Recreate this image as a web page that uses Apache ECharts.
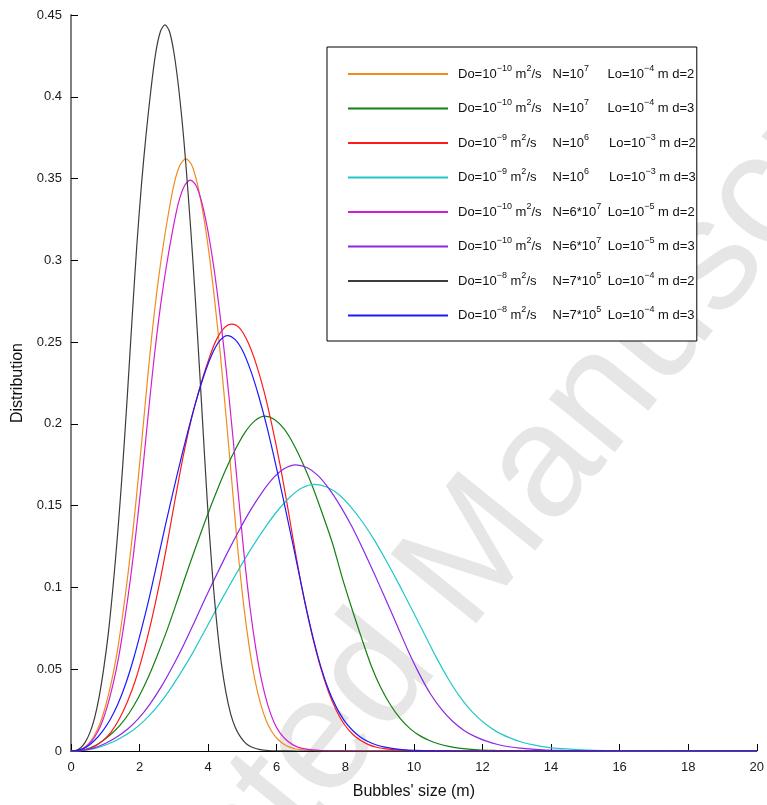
<!DOCTYPE html>
<html>
<head>
<meta charset="utf-8">
<script src="https://cdn.jsdelivr.net/npm/echarts@6/dist/echarts.min.js"></script>
<style>
html,body{margin:0;padding:0;background:#fff;}
#chart{width:767px;height:805px;}
</style>
</head>
<body>
<div id="chart"></div>
<script>
// Values (x in m, y = distribution)
const orangeX = [0,0.168,0.335,0.503,0.67,0.838,1.005,1.173,1.34,1.508,1.675,1.843,2.01,2.178,2.345,2.513,2.68,2.848,3.015,3.183,3.35,3.518,3.685,3.853,4.02,4.188,4.355,4.523,4.69,4.858,5.025,5.193,5.36,5.528,5.695,5.863,6.03,6.198,6.365,6.533,6.7,7.035,7.37,8.04,20];
const orangeY = [0,0.0002,0.0014,0.0043,0.009,0.0163,0.0272,0.0416,0.0597,0.0833,0.1104,0.1419,0.1774,0.2154,0.2516,0.2824,0.3077,0.3294,0.3475,0.3584,0.362,0.3584,0.3468,0.3287,0.3052,0.2758,0.2425,0.2045,0.1647,0.1249,0.0912,0.0644,0.0438,0.029,0.0185,0.0116,0.0072,0.0043,0.0025,0.0014,0.0008,0.0003,0.0001,0,0];

const greenX = [0,0.283,0.565,0.848,1.13,1.413,1.695,1.978,2.26,2.543,2.825,3.108,3.39,3.673,3.955,4.238,4.52,4.803,5.085,5.368,5.65,5.933,6.215,6.498,6.78,7.063,7.345,7.628,7.91,8.193,8.475,8.758,9.04,9.323,9.605,9.888,10.17,10.453,10.735,11.018,11.3,11.865,12.43,12.995,14.125,20];
const greenY = [0,0.0004,0.002,0.0051,0.0096,0.0154,0.0231,0.0332,0.0454,0.0598,0.0753,0.0925,0.1099,0.1267,0.1429,0.1582,0.1724,0.1848,0.1951,0.202,0.2047,0.2027,0.1969,0.1873,0.175,0.1607,0.1443,0.1269,0.106,0.087,0.069,0.052,0.0385,0.028,0.0198,0.0137,0.0094,0.0064,0.0043,0.0028,0.0018,0.0007,0.0003,0.0001,0,0];

const redX = [0,0.235,0.469,0.704,0.938,1.173,1.407,1.642,1.876,2.111,2.345,2.58,2.814,3.049,3.283,3.518,3.752,3.987,4.221,4.456,4.69,4.925,5.159,5.394,5.628,5.863,6.097,6.332,6.566,6.801,7.035,7.27,7.504,7.739,7.973,8.208,8.442,8.677,8.911,9.146,9.38,9.849,10.318,11.256,20];
const redY = [0,0.0001,0.001,0.0031,0.0065,0.0117,0.0196,0.03,0.0431,0.06,0.0796,0.1023,0.1279,0.1553,0.1814,0.2036,0.2219,0.2375,0.2506,0.2584,0.261,0.2584,0.25,0.237,0.22,0.1989,0.1749,0.1475,0.1188,0.0927,0.0705,0.0517,0.0365,0.0248,0.0162,0.0104,0.0065,0.0039,0.0023,0.0014,0.0009,0.0003,0.0001,0,0];

const cyanX = [0,0.355,0.71,1.065,1.42,1.775,2.13,2.485,2.84,3.195,3.55,3.905,4.26,4.615,4.97,5.325,5.68,6.035,6.39,6.745,7.1,7.455,7.81,8.165,8.52,8.875,9.23,9.585,9.94,10.295,10.65,11.005,11.36,11.715,12.07,12.425,12.78,13.135,13.49,13.845,14.2,14.91,15.62,16.33,17.75,20];
const cyanY = [0,0.0003,0.0016,0.0041,0.0077,0.0122,0.0184,0.0264,0.0362,0.0476,0.06,0.0737,0.0875,0.1009,0.1138,0.126,0.1372,0.1472,0.1553,0.1609,0.163,0.1614,0.1568,0.1491,0.1394,0.128,0.1149,0.1011,0.0867,0.072,0.0574,0.044,0.0326,0.0236,0.0168,0.0117,0.0082,0.0055,0.0037,0.0024,0.0016,0.0007,0.0002,0.0001,0,0];

const magentaX = [0,0.174,0.348,0.522,0.696,0.87,1.044,1.218,1.392,1.566,1.74,1.914,2.088,2.262,2.436,2.61,2.784,2.958,3.132,3.306,3.48,3.654,3.828,4.002,4.176,4.35,4.524,4.698,4.872,5.046,5.22,5.394,5.568,5.742,5.916,6.09,6.264,6.438,6.612,6.786,6.96,7.308,7.656,8.352,20];
const magentaY = [0,0.0002,0.0014,0.0042,0.0087,0.0157,0.0262,0.0401,0.0576,0.0803,0.1064,0.1368,0.171,0.2077,0.2426,0.2722,0.2967,0.3176,0.335,0.3455,0.349,0.3455,0.3343,0.3169,0.2942,0.2659,0.2338,0.1972,0.1588,0.1204,0.0879,0.0621,0.0422,0.0279,0.0178,0.0112,0.007,0.0042,0.0024,0.0014,0.0008,0.0002,0.0001,0,0];

const purpleX = [0,0.328,0.655,0.983,1.31,1.638,1.965,2.293,2.62,2.948,3.275,3.603,3.93,4.258,4.585,4.913,5.24,5.568,5.895,6.223,6.55,6.878,7.205,7.533,7.86,8.188,8.515,8.843,9.17,9.498,9.825,10.153,10.48,10.808,11.135,11.463,11.79,12.118,12.445,12.773,13.1,13.755,14.41,15.065,16.375,20];
const purpleY = [0,0.0004,0.0018,0.0044,0.0082,0.0131,0.0198,0.0284,0.0389,0.0511,0.0644,0.0791,0.094,0.1083,0.1222,0.1353,0.1474,0.158,0.1668,0.1727,0.175,0.1733,0.1684,0.1601,0.1496,0.1374,0.1234,0.1085,0.0931,0.0774,0.0616,0.0473,0.035,0.0254,0.018,0.0126,0.0088,0.006,0.004,0.0026,0.0017,0.0007,0.0003,0.0001,0,0];

const blackX = [0,0.137,0.274,0.411,0.548,0.685,0.822,0.959,1.096,1.233,1.37,1.507,1.644,1.781,1.918,2.055,2.192,2.329,2.466,2.603,2.74,2.877,3.014,3.151,3.288,3.425,3.562,3.699,3.836,3.973,4.11,4.247,4.384,4.521,4.658,4.795,4.932,5.069,5.206,5.343,5.48,5.754,6.028,6.576,20];
const blackY = [0,0.0002,0.0018,0.0053,0.0111,0.02,0.0333,0.0511,0.0733,0.1021,0.1354,0.174,0.2176,0.2642,0.3086,0.3463,0.3774,0.404,0.4262,0.4396,0.444,0.4396,0.4254,0.4032,0.3743,0.3383,0.2975,0.2509,0.202,0.1532,0.1119,0.079,0.0537,0.0355,0.0226,0.0142,0.0089,0.0053,0.0031,0.0018,0.001,0.0003,0.0001,0,0];

const blueX = [0,0.228,0.456,0.684,0.912,1.14,1.368,1.596,1.824,2.052,2.28,2.508,2.736,2.964,3.192,3.42,3.648,3.876,4.104,4.332,4.56,4.788,5.016,5.244,5.472,5.7,5.928,6.156,6.384,6.612,6.84,7.068,7.296,7.524,7.752,7.98,8.208,8.436,8.664,8.892,9.12,9.576,10.032,10.488,11.4,20];
const blueY = [0,0.0005,0.0025,0.0064,0.0119,0.0191,0.0287,0.0411,0.0564,0.0742,0.0935,0.1148,0.1364,0.1572,0.1773,0.1963,0.2139,0.2294,0.2421,0.2507,0.254,0.2515,0.2443,0.2324,0.2172,0.1994,0.1791,0.1575,0.1351,0.1123,0.0894,0.0686,0.0508,0.0368,0.0262,0.0183,0.0127,0.0086,0.0058,0.0038,0.0025,0.001,0.0004,0.0001,0,0];

const xTicks = [0,2,4,6,8,10,12,14,16,18,20];
const yTicks = [0,0.05,0.1,0.15,0.2,0.25,0.3,0.35,0.4,0.45];

const seriesNames = [
  'Do=10^-10 m^2/s N=10^7 Lo=10^-4 m d=2',
  'Do=10^-10 m^2/s N=10^7 Lo=10^-4 m d=3',
  'Do=10^-9 m^2/s N=10^6 Lo=10^-3 m d=2',
  'Do=10^-9 m^2/s N=10^6 Lo=10^-3 m d=3',
  'Do=10^-10 m^2/s N=6*10^7 Lo=10^-5 m d=2',
  'Do=10^-10 m^2/s N=6*10^7 Lo=10^-5 m d=3',
  'Do=10^-8 m^2/s N=7*10^5 Lo=10^-4 m d=2',
  'Do=10^-8 m^2/s N=7*10^5 Lo=10^-4 m d=3'
];
const legendRich = [
  '{g| }{a|Do=10}{s|\u221210}{a| m}{s|2}{a|/s}{p1| }{a|N=10}{s|7}{p3| }{a|Lo=10}{s|\u22124}{a| m d=2}',
  '{g| }{a|Do=10}{s|\u221210}{a| m}{s|2}{a|/s}{p1| }{a|N=10}{s|7}{p3| }{a|Lo=10}{s|\u22124}{a| m d=3}',
  '{g| }{a|Do=10}{s|\u22129}{a| m}{s|2}{a|/s}{p2| }{a|N=10}{s|6}{p3b| }{a|Lo=10}{s|\u22123}{a| m d=2}',
  '{g| }{a|Do=10}{s|\u22129}{a| m}{s|2}{a|/s}{p2| }{a|N=10}{s|6}{p3b| }{a|Lo=10}{s|\u22123}{a| m d=3}',
  '{g| }{a|Do=10}{s|\u221210}{a| m}{s|2}{a|/s}{p1| }{a|N=6*10}{s|7}{p4| }{a|Lo=10}{s|\u22125}{a| m d=2}',
  '{g| }{a|Do=10}{s|\u221210}{a| m}{s|2}{a|/s}{p1| }{a|N=6*10}{s|7}{p4| }{a|Lo=10}{s|\u22125}{a| m d=3}',
  '{g| }{a|Do=10}{s|\u22128}{a| m}{s|2}{a|/s}{p2| }{a|N=7*10}{s|5}{p4| }{a|Lo=10}{s|\u22124}{a| m d=2}',
  '{g| }{a|Do=10}{s|\u22128}{a| m}{s|2}{a|/s}{p2| }{a|N=7*10}{s|5}{p4| }{a|Lo=10}{s|\u22124}{a| m d=3}'
];
const colors = ['#f08c1e','#118011','#ff1a1a','#22c8c8','#d21ed2','#8c28e6','#3c3c3c','#1a1aff'];
const seriesX = [orangeX, greenX, redX, cyanX, magentaX, purpleX, blackX, blueX];
const seriesY = [orangeY, greenY, redY, cyanY, magentaY, purpleY, blackY, blueY];

const chart = echarts.init(document.getElementById('chart'), null, {renderer: 'canvas'});
const FONT = '"Liberation Sans", Arial, Helvetica, sans-serif';

const series = seriesNames.map((name, i) => ({
  name: name,
  type: 'line',
  data: seriesX[i].map((x, j) => [x, seriesY[i][j]]),
  smooth: 0.3,
  symbol: 'none',
  showSymbol: false,
  lineStyle: {color: colors[i], width: 1.2},
  itemStyle: {color: colors[i]},
  z: 3
}));

chart.setOption({
  animation: false,
  backgroundColor: '#fff',
  textStyle: {fontFamily: FONT},
  graphic: [{
    type: 'text',
    x: 48, y: 1209,
    rotation: 51 * Math.PI / 180,
    z: -10,
    silent: true,
    style: {
      text: 'Accepted Manuscript',
      fontSize: 160,
      fontFamily: FONT,
      fill: '#e6e6e6',
      verticalAlign: 'bottom'
    }
  }],
  grid: {left: 71, right: 6, top: 15, bottom: 52, containLabel: false},
  xAxis: {
    type: 'value', min: xTicks[0], max: xTicks[xTicks.length - 1], interval: xTicks[1] - xTicks[0],
    name: "Bubbles' size (m)", nameLocation: 'middle', nameGap: 33,
    nameTextStyle: {fontSize: 16, color: '#111', fontFamily: FONT},
    axisLine: {show: true, onZero: false, lineStyle: {color: '#000', width: 1}},
    axisTick: {show: true, inside: true, length: 7, lineStyle: {color: '#000', width: 1}},
    axisLabel: {fontSize: 13, color: '#1a1a1a', margin: 10, fontFamily: FONT},
    splitLine: {show: false}
  },
  yAxis: {
    type: 'value', min: yTicks[0], max: yTicks[yTicks.length - 1], interval: 0.05,
    name: 'Distribution', nameLocation: 'middle', nameGap: 45,
    nameTextStyle: {fontSize: 16, color: '#111', fontFamily: FONT},
    axisLine: {show: true, lineStyle: {color: '#808080', width: 2}},
    axisTick: {show: true, inside: true, length: 7, lineStyle: {color: '#000', width: 1}},
    axisLabel: {fontSize: 13, color: '#1a1a1a', margin: 9, fontFamily: FONT},
    splitLine: {show: false}
  },
  legend: {
    orient: 'vertical',
    left: 327, top: 47,
    padding: [17, 1, 19, 20],
    itemGap: 18,
    itemWidth: 100,
    itemHeight: 14,
    borderColor: '#000',
    borderWidth: 1,
    backgroundColor: '#fff',
    selectedMode: false,
    itemStyle: {opacity: 0},
    data: seriesNames,
    formatter: function (name) { return legendRich[seriesNames.indexOf(name)]; },
    textStyle: {
      fontSize: 13, color: '#111', fontFamily: FONT,
      rich: {
        a: {fontSize: 13, lineHeight: 20, color: '#111', fontFamily: FONT},
        s: {fontSize: 9, lineHeight: 10, verticalAlign: 'top', color: '#111', fontFamily: FONT},
        g: {width: 5, fontSize: 13, lineHeight: 20},
        p1: {width: 11, fontSize: 13, lineHeight: 20},
        p2: {width: 16, fontSize: 13, lineHeight: 20},
        p3: {width: 18.5, fontSize: 13, lineHeight: 20},
        p3b: {width: 20, fontSize: 13, lineHeight: 20},
        p4: {width: 6.5, fontSize: 13, lineHeight: 20}
      }
    }
  },
  series: series
});
</script>
</body>
</html>
